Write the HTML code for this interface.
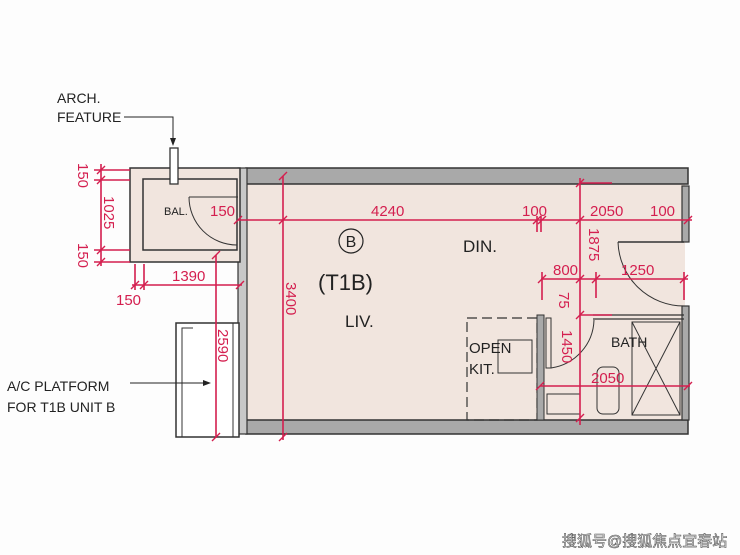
<!DOCTYPE html><html><head><meta charset="utf-8"><style>body{margin:0;background:#fff}svg{display:block}</style></head><body>
<svg width="740" height="555" viewBox="0 0 740 555" xmlns="http://www.w3.org/2000/svg" font-family="Liberation Sans, sans-serif">
<rect width="740" height="555" fill="#fdfdfd"/>
<!-- main unit interior -->
<rect x="243" y="180" width="442" height="243" fill="#f1e5de"/>
<!-- walls -->
<rect x="246" y="168" width="442" height="16" fill="#a9a9a9" stroke="#333" stroke-width="1.5"/>
<rect x="246" y="420" width="442" height="14" fill="#a9a9a9" stroke="#333" stroke-width="1.5"/>
<rect x="238" y="168" width="9" height="266" fill="#c8c8c8" stroke="#333" stroke-width="1.2"/>
<rect x="682" y="186" width="7" height="56" fill="#a9a9a9" stroke="#333" stroke-width="1.2"/>
<rect x="682" y="306" width="7" height="114" fill="#a9a9a9" stroke="#333" stroke-width="1.2"/>
<!-- balcony -->
<rect x="130" y="168" width="110" height="94" fill="#f1e5de" stroke="#333" stroke-width="1.5"/>
<rect x="143" y="179" width="94" height="71" fill="none" stroke="#333" stroke-width="1.5"/>
<rect x="170" y="148" width="8" height="36" fill="#fff" stroke="#333" stroke-width="1.3"/>
<path d="M189 197 L238 197 M189 197 A48 48 0 0 0 237 245" fill="none" stroke="#333" stroke-width="1"/>
<text x="164" y="215" font-size="11" fill="#222">BAL.</text>
<!-- arch feature -->
<text x="57" y="103" font-size="14" fill="#222">ARCH.</text>
<text x="57" y="122" font-size="14" fill="#222">FEATURE</text>
<path d="M124 117 L173 117 L173 142" fill="none" stroke="#222" stroke-width="1"/>
<path d="M170 138 L173 146 L176 138Z" fill="#222"/>
<!-- A/C platform -->
<rect x="176" y="323" width="63" height="114" fill="#fff" stroke="#333" stroke-width="1.5"/>
<path d="M182 437 L182 328 L193 328 M233 437 L233 323" fill="none" stroke="#333" stroke-width="1"/>
<text x="7" y="391" font-size="14" fill="#222">A/C PLATFORM</text>
<text x="7" y="412" font-size="14" fill="#222">FOR T1B UNIT B</text>
<path d="M130 383 L208 383" stroke="#222" stroke-width="1"/>
<path d="M203 380 L211 383 L203 386Z" fill="#222"/>
<!-- kitchen -->
<rect x="467" y="318" width="70" height="102" fill="none" stroke="#333" stroke-width="1.2" stroke-dasharray="10,5"/>
<rect x="498" y="340" width="34" height="33" fill="none" stroke="#333" stroke-width="1"/>
<text x="469" y="353" font-size="15" fill="#222">OPEN</text>
<text x="469" y="374" font-size="15" fill="#222">KIT.</text>
<rect x="537" y="315" width="7" height="105" fill="#a9a9a9" stroke="#333" stroke-width="1"/>
<rect x="546" y="318" width="5" height="50" fill="none" stroke="#333" stroke-width="1"/>
<path d="M551 368 A50 50 0 0 0 594 320" fill="none" stroke="#333" stroke-width="1"/>
<!-- bath -->
<path d="M593 315 L684 315 M593 319 L684 319" stroke="#333" stroke-width="1.2"/>
<rect x="632" y="322" width="48" height="93" fill="none" stroke="#333" stroke-width="1"/>
<path d="M632 322 L680 415 M680 322 L632 415" stroke="#333" stroke-width="1"/>
<rect x="597" y="367" width="22" height="47" rx="6" fill="none" stroke="#333" stroke-width="1"/>
<rect x="547" y="394" width="33" height="20" fill="none" stroke="#333" stroke-width="1"/>
<text x="611" y="347" font-size="14" fill="#222">BATH</text>
<!-- entry door -->
<path d="M618 242 L684 242" stroke="#333" stroke-width="1.5"/>
<path d="M618 242 A66 66 0 0 0 684 306" fill="none" stroke="#333" stroke-width="1"/>
<!-- labels -->
<circle cx="351" cy="241" r="12" fill="none" stroke="#222" stroke-width="1.2"/>
<text x="351" y="247" font-size="16" fill="#222" text-anchor="middle">B</text>
<text x="318" y="290" font-size="22" fill="#222">(T1B)</text>
<text x="345" y="327" font-size="17" fill="#222">LIV.</text>
<text x="463" y="252" font-size="17" fill="#222">DIN.</text>
<!-- dimensions -->
<g stroke="#d41f4f" stroke-width="1.6" fill="none">
<path d="M238 220 L692 220"/>
<path d="M283 176 L283 440"/>
<path d="M580 178 L580 425"/>
<path d="M541 279 L688 279"/>
<path d="M540 386 L690 386"/>
<path d="M101 164 L101 266"/>
<path d="M94 170 L130 170 M94 180 L130 180 M94 250 L130 250 M94 262 L130 262"/>
<path d="M132 285 L242 285"/>
<path d="M135 264 L135 290 M144 264 L144 290"/>
<path d="M216 255 L216 438"/>
<path d="M542 272 L542 300 M596 272 L596 298 M684 272 L684 300"/>
<path d="M580 183 L612 183"/>
<path d="M580 315 L612 315"/>
<path d="M537 216 L537 232 M541 216 L541 232"/>
</g>
<g stroke="#d41f4f" stroke-width="1.4">
<path d="M234 224 L242 216 M279 224 L287 216 M533 224 L541 216 M538 224 L546 216 M576 224 L584 216 M684 224 L692 216 M279 180 L287 172 M279 441 L287 433 M576 187 L584 179 M576 283 L584 275 M576 319 L584 311 M576 422 L584 414 M538 283 L546 275 M592 283 L600 275 M680 283 L688 275 M536 390 L544 382 M684 390 L692 382 M97 174 L105 166 M97 184 L105 176 M97 254 L105 246 M97 266 L105 258 M131 289 L139 281 M140 289 L148 281 M236 289 L244 281 M212 259 L220 251 M212 441 L220 433"/>
</g>
<g fill="#d41f4f" font-size="15">
<text x="210" y="216">150</text>
<text x="371" y="216">4240</text>
<text x="522" y="216">100</text>
<text x="590" y="216">2050</text>
<text x="650" y="216">100</text>
<text x="553" y="275">800</text>
<text x="621" y="275">1250</text>
<text x="591" y="383">2050</text>
<text x="172" y="281">1390</text>
<text x="116" y="305">150</text>
<text transform="translate(589,228) rotate(90)">1875</text>
<text transform="translate(559,292) rotate(90)">75</text>
<text transform="translate(562,330) rotate(90)">1450</text>
<text transform="translate(286,282) rotate(90)">3400</text>
<text transform="translate(218,329) rotate(90)">2590</text>
<text transform="translate(78,163) rotate(90)">150</text>
<text transform="translate(104,196) rotate(90)">1025</text>
<text transform="translate(78,243) rotate(90)">150</text>
</g>
<text x="562" y="546" font-size="15" fill="#fff" stroke="#555" stroke-width="0.6" font-family="Liberation Sans, Noto Sans CJK SC, sans-serif">搜狐号@搜狐焦点宜春站</text>
</svg>
</body></html>
